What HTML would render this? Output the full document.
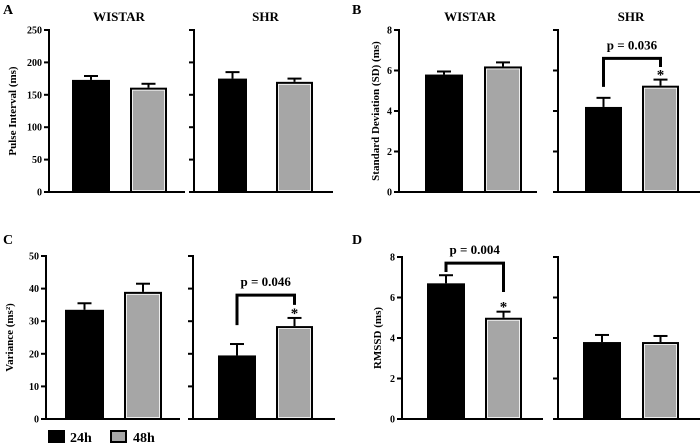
<!DOCTYPE html>
<html><head><meta charset="utf-8"><style>
html,body{margin:0;padding:0;background:#fff;}
svg{display:block;font-family:"Liberation Serif",serif;}
</style></head><body>
<svg id="chart" width="700" height="447" viewBox="0 0 700 447"></svg>
<script>
// ---- data ----
const groups = ["WISTAR", "SHR"];
const seriesNames = ["24h", "48h"];
const pulseMean = [[173, 161], [175, 170]];
const pulseErr = [[6, 6], [10, 5]];
const sdMean = [[5.8, 6.2], [4.2, 5.25]];
const sdErr = [[0.15, 0.2], [0.45, 0.3]];
const varMean = [[33.5, 39], [19.5, 28.5]];
const varErr = [[2, 2.5], [3.5, 2.5]];
const rmssdMean = [[6.7, 5.0], [3.8, 3.8]];
const rmssdErr = [[0.4, 0.3], [0.35, 0.3]];
const ticksPulse = [0, 50, 100, 150, 200, 250];
const ticksSD = [0, 2, 4, 6, 8];
const ticksVar = [0, 10, 20, 30, 40, 50];
const ticksRMSSD = [0, 2, 4, 6, 8];
const pLabels = ["p = 0.036", "p = 0.046", "p = 0.004"];
// bracket [left end, top, right end] in data units
const bracketSD = [5.19, 6.6, 6.17];
const bracketVar = [28.8, 38, 35];
const bracketRMSSD = [7.26, 7.7, 6.27];

const NS = "http://www.w3.org/2000/svg";
const svg = document.getElementById("chart");
function mk(tag, attrs, parent, txt) {
  const e = document.createElementNS(NS, tag);
  for (const k in attrs) e.setAttribute(k, attrs[k]);
  if (txt !== undefined) e.textContent = txt;
  (parent || svg).appendChild(e);
  return e;
}

const panels = [
  {letter: "A", lx: 3, ly: 14, title: "Pulse Interval (ms)", tx: 13, mean: pulseMean, err: pulseErr, ticks: ticksPulse, max: 250,
   top: 30, zero: 192, axes: [[49, 185], [194, 333]], bars: [[[72, 110], [130, 167]], [[218, 247], [276, 313]]], titles: true},
  {letter: "B", lx: 352, ly: 14, title: "Standard Deviation (SD) (ms)", tx: 376, mean: sdMean, err: sdErr, ticks: ticksSD, max: 8,
   top: 30, zero: 192, axes: [[399, 537], [558, 700]], bars: [[[425, 463], [484, 522]], [[585, 622], [642, 679]]], titles: true,
   bracket: {g: 1, vals: bracketSD, label: pLabels[0]}},
  {letter: "C", lx: 3, ly: 244, title: "Variance (ms²)", tx: 10, mean: varMean, err: varErr, ticks: ticksVar, max: 50,
   top: 256, zero: 419, axes: [[46, 180], [193, 335]], bars: [[[65, 104], [124, 162]], [[218, 256], [276, 313]]],
   bracket: {g: 1, vals: bracketVar, label: pLabels[1]}},
  {letter: "D", lx: 352, ly: 244, title: "RMSSD (ms)", tx: 378, mean: rmssdMean, err: rmssdErr, ticks: ticksRMSSD, max: 8,
   top: 257, zero: 419, axes: [[402, 543], [558, 700]], bars: [[[427, 465], [485, 522]], [[583, 621], [642, 679]]],
   bracket: {g: 0, vals: bracketRMSSD, label: pLabels[2]}}
];

panels.forEach(p => {
  const g = mk("g", {});
  
  
  const y = v => p.zero - v / p.max * (p.zero - p.top);
  const L = mk("text", {x: p.lx, y: p.ly, "font-size": 14, "font-weight": "bold"}, g, p.letter);
  
  
  const cy = (p.top + p.zero) / 2;
  const yt = mk("text", {x: p.tx, y: cy, "font-size": 11, "font-weight": "bold", "text-anchor": "middle", "dominant-baseline": "central", transform: `rotate(-90 ${p.tx} ${cy})`}, g, p.title);
  
  
  p.axes.forEach((ax, gi) => {
    const [x0, x1] = ax;
    const a = mk("path", {d: `M${x0} ${p.top - 1}V${p.zero}H${x1}`, stroke: "#000", "stroke-width": 2, fill: "none"}, g);
    
    
    p.ticks.forEach(t => {
      mk("line", {x1: x0 - 5, x2: x0, y1: y(t), y2: y(t), stroke: "#000", "stroke-width": 2}, g);
      if (gi === 0) {
        const tl = mk("text", {x: x0 - 7, y: y(t) + 3.5, "font-size": 10, "font-weight": "bold", "text-anchor": "end"}, g, t);
        
        
      }
    });
    if (p.titles) {
      const tt = mk("text", {x: (x0 + x1) / 2 + 2, y: 21, "font-size": 13, "font-weight": "bold", "text-anchor": "middle"}, g, groups[gi]);
      
      
    }
    p.bars[gi].forEach((b, si) => {
      const v = p.mean[gi][si], e = p.err[gi][si];
      const cx = (b[0] + b[1]) / 2;
      const et = y(v + e);
      mk("line", {x1: cx, x2: cx, y1: y(v), y2: et, stroke: "#000", "stroke-width": 2}, g);
      mk("line", {x1: cx - 7, x2: cx + 7, y1: et, y2: et, stroke: "#000", "stroke-width": 2}, g);
      let r;
      if (si === 0) {
        r = mk("rect", {x: b[0], y: y(v), width: b[1] - b[0], height: p.zero - y(v), fill: "#000"}, g);
      } else {
        r = mk("rect", {x: b[0] + 1, y: y(v) + 1, width: b[1] - b[0] - 2, height: p.zero - y(v) - 1, fill: "#a6a6a6", stroke: "#000", "stroke-width": 2}, g);
        mk("rect", {x: b[0] + 2.5, y: y(v) + 2.5, width: b[1] - b[0] - 5, height: p.zero - y(v) - 4, fill: "none", stroke: "#fff", "stroke-width": 0.8}, g);
      }
      
      
    });
    if (p.bracket && p.bracket.g === gi) {
      const bl = p.bars[gi][0], br = p.bars[gi][1];
      const xl = (bl[0] + bl[1]) / 2, xr = (br[0] + br[1]) / 2;
      const [vl, vt, vr] = p.bracket.vals;
      const bk = mk("path", {d: `M${xl} ${y(vl)}V${y(vt)}H${xr}V${y(vr)}`, stroke: "#000", "stroke-width": 3, fill: "none"}, g);
      
      
      const pt = mk("text", {x: (xl + xr) / 2, y: y(vt) - 9, "font-size": 13, "font-weight": "bold", "text-anchor": "middle"}, g, p.bracket.label);
      
      
      const st = mk("text", {x: xr, y: y(p.mean[gi][1] + p.err[gi][1]), "font-size": 15, "font-weight": "bold", "text-anchor": "middle"}, g, "*");
      
      
    }
  });
});

// legend
const lg = mk("g", {});


const l1 = mk("rect", {x: 48, y: 430, width: 17, height: 13, fill: "#000"}, lg);


const t1 = mk("text", {x: 70, y: 442, "font-size": 14, "font-weight": "bold"}, lg, seriesNames[0]);


const l2 = mk("rect", {x: 111, y: 431, width: 15, height: 11, fill: "#a6a6a6", stroke: "#000", "stroke-width": 2}, lg);


const t2 = mk("text", {x: 133, y: 442, "font-size": 14, "font-weight": "bold"}, lg, seriesNames[1]);


</script>
</body></html>
